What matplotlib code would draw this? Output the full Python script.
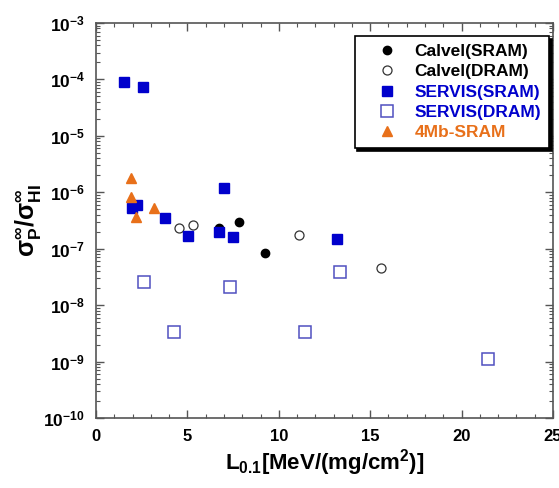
import matplotlib
matplotlib.use("Agg")
import matplotlib.pyplot as plt
from matplotlib.ticker import LogLocator, FixedLocator, NullFormatter

plt.rcParams['font.family'] = ['Liberation Sans', 'DejaVu Sans']
plt.rcParams['font.weight'] = 'bold'
plt.rcParams['mathtext.fontset'] = 'custom'
plt.rcParams['mathtext.rm'] = 'Liberation Sans:bold'
plt.rcParams['mathtext.bf'] = 'Liberation Sans:bold'
plt.rcParams['mathtext.it'] = 'Liberation Sans:bold'
plt.rcParams['mathtext.default'] = 'bf'

# Data
calvel_sram_x = [6.72, 7.85, 9.27]
calvel_sram_y = [2.34e-7, 3.0e-7, 8.45e-8]

calvel_dram_x = [4.55, 5.32, 11.13, 15.61]
calvel_dram_y = [2.34e-7, 2.65e-7, 1.72e-7, 4.5e-8]

servis_sram_x = [1.53, 2.57, 1.97, 2.24, 3.77, 5.03, 7.0, 6.72, 7.49, 13.17]
servis_sram_y = [9.0e-5, 7.3e-5, 5.2e-7, 5.9e-7, 3.5e-7, 1.67e-7, 1.19e-6, 1.97e-7, 1.6e-7, 1.48e-7]

servis_dram_x = [2.64, 4.26, 7.32, 13.37, 11.42, 21.44]
servis_dram_y = [2.56e-8, 3.4e-9, 2.06e-8, 3.8e-8, 3.3e-9, 1.13e-9]

mb4_x = [1.9, 1.9, 2.19, 3.15]
mb4_y = [1.8e-6, 8.3e-7, 3.6e-7, 5.3e-7]

xticks = [0, 5, 10, 15, 20, 25]
yticks = [1e-10, 1e-9, 1e-8, 1e-7, 1e-6, 1e-5, 1e-4, 1e-3]
ytick_labels = [r'$\mathbf{10^{-10}}$', r'$\mathbf{10^{-9}}$', r'$\mathbf{10^{-8}}$', r'$\mathbf{10^{-7}}$',
                r'$\mathbf{10^{-6}}$', r'$\mathbf{10^{-5}}$', r'$\mathbf{10^{-4}}$', r'$\mathbf{10^{-3}}$']

blue = '#0000CC'
blue_open = '#5050C0'
orange = '#E8701A'

fig = plt.figure(figsize=(5.59, 4.88), dpi=100)
ax = fig.add_axes([96/559, 1-418/488, (553-96)/559, (418-23)/488])

ax.plot(calvel_sram_x, calvel_sram_y, 'o', color='black', ms=6, ls='none', label='Calvel(SRAM)')
ax.plot(calvel_dram_x, calvel_dram_y, 'o', mfc='white', mec='#333333', mew=0.9, ms=6.5, ls='none', label='Calvel(DRAM)')
ax.plot(servis_sram_x, servis_sram_y, 's', color=blue, ms=7, ls='none', label='SERVIS(SRAM)')
ax.plot(servis_dram_x, servis_dram_y, 's', mfc='white', mec=blue_open, mew=1.1, ms=9, ls='none', label='SERVIS(DRAM)')
ax.plot(mb4_x, mb4_y, '^', color=orange, ms=7.5, ls='none', label='4Mb-SRAM')

ax.set_yscale('log')
ax.set_xlim(0, 25)
ax.set_ylim(1e-10, 1e-3)
ax.set_xticks(xticks)
ax.set_xticklabels([str(v) for v in xticks], fontsize=12, fontweight='bold')
ax.xaxis.set_minor_locator(FixedLocator([v for v in range(0, 26) if v % 5 != 0]))
ax.set_yticks(yticks)
ax.set_yticklabels(ytick_labels, fontsize=12.5)
ax.yaxis.set_minor_locator(LogLocator(base=10, subs=range(2, 10), numticks=20))
ax.yaxis.set_minor_formatter(NullFormatter())

spine_col = '#555555'
for s in ax.spines.values():
    s.set_color(spine_col)
    s.set_linewidth(1.2)
ax.tick_params(which='both', direction='in', top=True, right=True, color=spine_col)
ax.tick_params(which='major', length=6, width=1, pad=8)
ax.tick_params(which='minor', length=3, width=0.8)

ax.set_xlabel(r'$\mathbf{L_{0.1}[MeV/(mg/cm^{2})]}$', fontsize=16, labelpad=2)
ax.set_ylabel(r'$\mathbf{\sigma_{P}^{\infty}/\sigma_{HI}^{\infty}}$', fontsize=18, labelpad=0)

leg = ax.legend(loc='upper right', bbox_to_anchor=(549/559, 1-36/488), bbox_transform=fig.transFigure,
                fancybox=False, shadow={'color': 'black', 'alpha': 1.0}, framealpha=1,
                edgecolor='black', prop={'weight': 'bold', 'size': 12.5},
                handletextpad=0.2, borderpad=0.45, labelspacing=0.3, handlelength=2.8,
                borderaxespad=0)
leg.get_frame().set_linewidth(1.2)
for txt, c in zip(leg.get_texts(), ['black', 'black', blue, blue, orange]):
    txt.set_color(c)

fig.savefig('out.png', dpi=100)
